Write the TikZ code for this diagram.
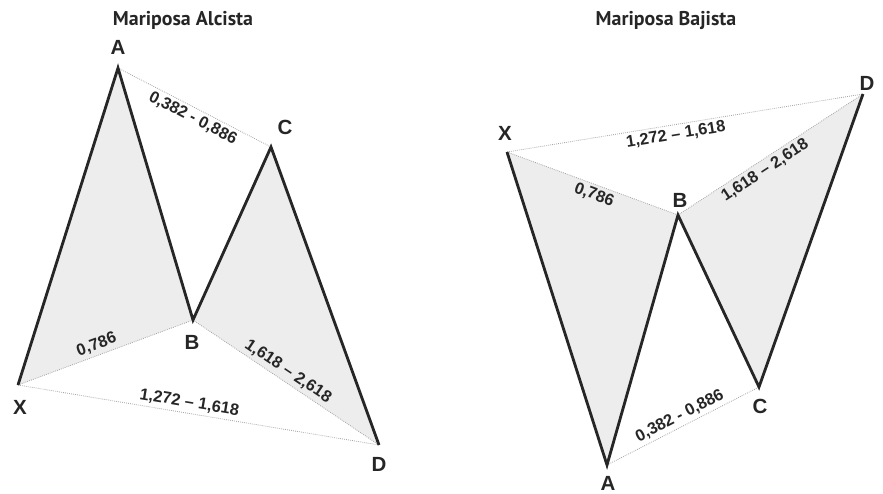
\documentclass[tikz,border=0pt]{standalone}
\usepackage{fontspec}
\setmainfont{Liberation Sans}
\newfontfamily\titlefont{PT Sans}
\usetikzlibrary{positioning}

\begin{document}
\begin{tikzpicture}[
        x=0.03cm, y=-0.03cm,
        leg/.style={line width=2.4pt, black!85},
        ratio/.style={densely dotted, gray!70, line width=0.7pt},
        area/.style={fill=gray!14},
        vtx/.style={font=\fontsize{17.5}{18}\selectfont\bfseries, text=black!85, inner sep=1pt},
        num/.style={font=\fontsize{14}{14}\selectfont\bfseries, text=black!85, sloped, inner sep=2.5pt},
        title/.style={font=\titlefont\fontsize{17}{17}\selectfont\bfseries, text=black!85},
    ]
        \useasboundingbox (0,0) rectangle (883,493);

        % --- Bullish butterfly (left) ---
        \node[title] (t1) at (183,20) {Mariposa Alcista};
        \coordinate (X1) at (18,385);
        \coordinate (A1) at (118,68);
        \coordinate (B1) at (193,320);
        \coordinate (C1) at (271,147);
        \coordinate (D1) at (379,445);

        \fill[area] (X1) -- (A1) -- (B1) -- cycle;
        \fill[area] (B1) -- (C1) -- (D1) -- cycle;

        \draw[ratio] (A1) -- node[num, pos=0.52, below]{0,382 - 0,886} (C1);
        \draw[ratio] (X1) -- node[num, pos=0.47, above]{0,786} (B1);
        \draw[ratio] (B1) -- node[num, pos=0.48, above]{1,618 -- 2,618} (D1);
        \draw[ratio] (X1) -- node[num, pos=0.47, above]{1,272 -- 1,618} (D1);
        \draw[leg] (X1) -- (A1) -- (B1) -- (C1) -- (D1);

        \node[vtx] (lX1) at (20,407) {X};
        \node[vtx] (lA1) at (118,47) {A};
        \node[vtx] (lB1) at (192,342) {B};
        \node[vtx] (lC1) at (285,127) {C};
        \node[vtx] (lD1) at (379,464) {D};

        % --- Bearish butterfly (right) ---
        \node[title] (t2) at (666,20) {Mariposa Bajista};
        \coordinate (X2) at (507,152);
        \coordinate (A2) at (607,465);
        \coordinate (B2) at (678,215);
        \coordinate (C2) at (759,387);
        \coordinate (D2) at (863,94);

        \fill[area] (X2) -- (A2) -- (B2) -- cycle;
        \fill[area] (B2) -- (C2) -- (D2) -- cycle;

        \draw[ratio] (X2) -- node[num, pos=0.47, below]{1,272 -- 1,618} (D2);
        \draw[ratio] (X2) -- node[num, pos=0.53, below]{0,786} (B2);
        \draw[ratio] (B2) -- node[num, pos=0.44, below]{1,618 -- 2,618} (D2);
        \draw[ratio] (A2) -- node[num, pos=0.51, above]{0,382 - 0,886} (C2);
        \draw[leg] (X2) -- (A2) -- (B2) -- (C2) -- (D2);

        \node[vtx] (lX2) at (505,133) {X};
        \node[vtx] (lA2) at (608,483) {A};
        \node[vtx] (lB2) at (680,200) {B};
        \node[vtx] (lC2) at (760,406) {C};
        \node[vtx] (lD2) at (867,83) {D};

    \end{tikzpicture}
\end{document}
